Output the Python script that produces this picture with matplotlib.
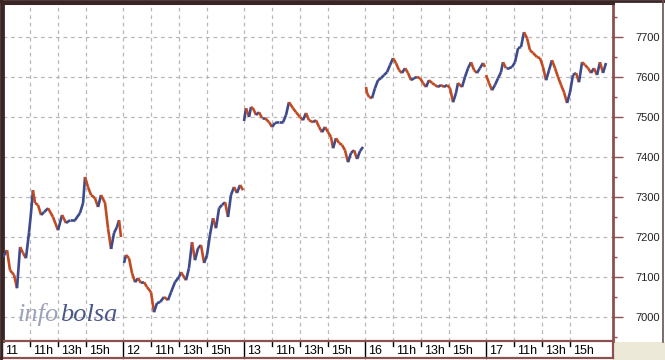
import matplotlib
matplotlib.use('Agg')
import matplotlib.pyplot as plt
from matplotlib.patches import Rectangle
from matplotlib.ticker import MultipleLocator
from matplotlib.transforms import blended_transform_factory

# ---- data: intraday index level (hour of day, level) ----
days = ['11', '12', '13', '16', '17']

hours_11 = [9.07, 9.36, 9.57, 9.86, 10.07, 10.29, 10.5, 10.71, 10.93, 11.07, 11.21, 11.36,
            11.57, 11.79, 12.0, 12.29, 12.64, 13.0, 13.29, 13.57, 13.86, 14.21, 14.57, 14.79,
            14.93, 15.14, 15.36, 15.64, 15.86, 16.07, 16.36, 16.57, 16.79, 17.0, 17.21, 17.36, 17.5]
level_11 = [7150, 7167, 7117, 7105, 7072, 7175, 7160, 7147, 7212, 7260, 7317, 7285,
            7280, 7255, 7262, 7272, 7250, 7217, 7255, 7235, 7242, 7242, 7260, 7285,
            7350, 7325, 7305, 7297, 7275, 7305, 7285, 7222, 7170, 7210, 7225, 7242, 7200]

hours_12 = [9.07, 9.21, 9.43, 9.64, 9.86, 10.07, 10.29, 10.5, 10.71, 11.0, 11.21, 11.43,
            11.64, 11.93, 12.21, 12.43, 12.71, 13.0, 13.14, 13.5, 13.71, 13.93, 14.14, 14.36,
            14.57, 14.79, 15.0, 15.21, 15.43, 15.64, 15.86, 16.07, 16.29, 16.5, 16.71, 16.93,
            17.14, 17.36, 17.57]
level_12 = [7135, 7155, 7147, 7110, 7087, 7097, 7085, 7087, 7075, 7062, 7012, 7035,
            7037, 7050, 7042, 7062, 7087, 7100, 7112, 7092, 7122, 7187, 7142, 7172,
            7180, 7135, 7155, 7205, 7247, 7222, 7272, 7280, 7287, 7250, 7305, 7325,
            7310, 7330, 7317]

hours_13 = [9.0, 9.14, 9.36, 9.5, 9.64, 9.86, 10.07, 10.29, 10.5, 10.79, 11.0, 11.21,
            11.5, 11.79, 12.0, 12.21, 12.5, 12.71, 13.0, 13.21, 13.43, 13.64, 13.93, 14.14,
            14.36, 14.57, 14.79, 15.0, 15.21, 15.36, 15.57, 15.79, 16.0, 16.21, 16.43, 16.64,
            16.86, 17.07, 17.29, 17.5]
level_13 = [7490, 7522, 7500, 7525, 7522, 7505, 7512, 7497, 7497, 7487, 7475, 7485,
            7487, 7487, 7505, 7537, 7522, 7512, 7500, 7492, 7510, 7492, 7487, 7492,
            7475, 7462, 7475, 7462, 7450, 7422, 7447, 7435, 7430, 7417, 7387, 7410,
            7417, 7395, 7415, 7425]

hours_16 = [9.07, 9.14, 9.29, 9.5, 9.71, 9.93, 10.14, 10.36, 10.57, 10.79, 11.0, 11.21,
            11.43, 11.64, 11.86, 12.07, 12.29, 12.5, 12.71, 12.93, 13.14, 13.36, 13.57, 13.79,
            14.0, 14.21, 14.43, 14.64, 14.86, 15.07, 15.29, 15.5, 15.64, 15.93, 16.14, 16.36,
            16.57, 16.79, 17.0, 17.21, 17.43, 17.57]
level_16 = [7575, 7560, 7550, 7547, 7572, 7592, 7597, 7605, 7612, 7630, 7647, 7635,
            7617, 7610, 7622, 7610, 7592, 7597, 7600, 7597, 7585, 7575, 7592, 7585,
            7580, 7575, 7580, 7575, 7580, 7572, 7537, 7560, 7585, 7575, 7600, 7622,
            7637, 7617, 7610, 7622, 7635, 7625]

hours_17 = [9.0, 9.21, 9.43, 9.64, 9.86, 10.07, 10.21, 10.43, 10.64, 10.86, 11.07, 11.29,
            11.5, 11.71, 11.93, 12.14, 12.36, 12.64, 12.86, 13.07, 13.29, 13.5, 13.71, 13.93,
            14.14, 14.36, 14.57, 14.79, 15.0, 15.21, 15.43, 15.64, 15.86, 16.07, 16.29, 16.5,
            16.71, 16.93, 17.14, 17.36, 17.57]
level_17 = [7605, 7585, 7567, 7580, 7597, 7612, 7637, 7622, 7622, 7625, 7637, 7672,
            7675, 7712, 7697, 7667, 7660, 7650, 7647, 7625, 7592, 7617, 7642, 7622,
            7600, 7580, 7562, 7535, 7562, 7605, 7610, 7587, 7637, 7630, 7622, 7610,
            7622, 7605, 7637, 7610, 7635]

all_hours = [hours_11, hours_12, hours_13, hours_16, hours_17]
all_levels = [level_11, level_12, level_13, level_16, level_17]
hour_labels = [11, 13, 15]
y_ticks = [7000, 7100, 7200, 7300, 7400, 7500, 7600, 7700]

# ---- style ----
DAY_W = 121 / 14      # one session in axis units (hours incl. overnight gap)
UP = '#3d4a8c'
DOWN = '#c24a22'
FRAME = '#8c5050'
DARK = '#3a2424'
GRID = '#b8b8b8'
W, H = 665, 360

plt.rcParams['font.family'] = ['Liberation Sans', 'DejaVu Sans']

fig = plt.figure(figsize=(W / 100, H / 100), dpi=100, facecolor='white')

# bottom-right corner background (behind the axes)
fig.patches.append(Rectangle((613 / W, 0), 1 - 613 / W, 18 / H, transform=fig.transFigure,
                             facecolor='#ece9d8', edgecolor='none', zorder=-5))

ax = fig.add_axes([3 / W, 19 / H, 610 / W, 338 / H])


def xpos(day_idx, hour):
    return day_idx * DAY_W + (hour - 9)


# price line, each step coloured by direction
for d, (hrs, lv) in enumerate(zip(all_hours, all_levels)):
    xs = [xpos(d, h) for h in hrs]
    for i in range(1, len(xs)):
        c = UP if lv[i] >= lv[i - 1] else DOWN
        ax.plot(xs[i - 1:i + 1], lv[i - 1:i + 1], color=c, lw=1.9,
                solid_capstyle='butt', zorder=3)

ax.set_xlim(0.07, 0.07 + 610 / 14)
ax.set_ylim(6940, 7785)

# grid
vlines = []
for d in range(len(days)):
    vlines.append(xpos(d, 9))
    vlines += [xpos(d, h) for h in hour_labels]
for v in vlines:
    ax.axvline(v, color=GRID, lw=0.9, ls=(0, (3, 3)), zorder=1)
for y in y_ticks:
    ax.axhline(y, color=GRID, lw=0.9, ls=(0, (3, 3)), zorder=1)

# right axis
ax.yaxis.tick_right()
ax.set_yticks(y_ticks)
ax.set_yticklabels([str(v) for v in y_ticks])
ax.yaxis.set_minor_locator(MultipleLocator(50))
ax.tick_params(axis='y', which='major', length=7, width=1, color=FRAME,
               pad=9, labelsize=8, labelcolor='#222222')
ax.tick_params(axis='y', which='minor', length=3, width=1, color=FRAME)
ax.set_xticks([])

for side, col, lw in [('left', DARK, 2), ('top', DARK, 2.2), ('right', FRAME, 2), ('bottom', FRAME, 1.6)]:
    ax.spines[side].set_color(col)
    ax.spines[side].set_linewidth(lw)

# bottom strip border
fig.add_artist(plt.Line2D([0, 613 / W], [2 / H, 2 / H], transform=fig.transFigure,
                          color=FRAME, lw=1.6))
fig.add_artist(plt.Line2D([613 / W, 613 / W], [2 / H, 19 / H], transform=fig.transFigure,
                          color=FRAME, lw=1.6))
# outer frame
fig.add_artist(plt.Line2D([1 / W, 1 / W], [0, 1], transform=fig.transFigure, color=DARK, lw=2))
fig.add_artist(plt.Line2D([0, 1], [1 - 1 / H, 1 - 1 / H], transform=fig.transFigure, color=DARK, lw=2))
fig.add_artist(plt.Line2D([663 / W, 663 / W], [18 / H, 1], transform=fig.transFigure,
                          color='#6a5050', lw=1.2))

# session and hour labels below the plot
tr = blended_transform_factory(ax.transData, fig.transFigure)
for d, day in enumerate(days):
    x0 = xpos(d, 9)
    ax.plot([x0, x0], [2.5 / H, 18.5 / H], transform=tr, color='black', lw=1, clip_on=False)
    ax.text(x0 + 0.2, 9.5 / H, day, transform=tr, fontsize=9, va='center', ha='left',
            color='black', clip_on=False)
    for h in hour_labels:
        xh = xpos(d, h)
        ax.plot([xh, xh], [14 / H, 18.5 / H], transform=tr, color='black', lw=1, clip_on=False)
        ax.text(xh + 0.2, 9.5 / H, f'{h}h', transform=tr, fontsize=9, va='center',
                ha='left', color='black', clip_on=False)

# watermark
fig.text(18 / W, 1 - 321 / H, 'info', fontsize=19, family='Liberation Serif',
         style='italic', color='#9ca2b8', ha='left', va='baseline')
fig.text(60 / W, 1 - 321 / H, 'bolsa', fontsize=19, family='Liberation Serif',
         style='italic', color='#4a5688', ha='left', va='baseline')

fig.savefig('out.png', dpi=100, facecolor='white')
